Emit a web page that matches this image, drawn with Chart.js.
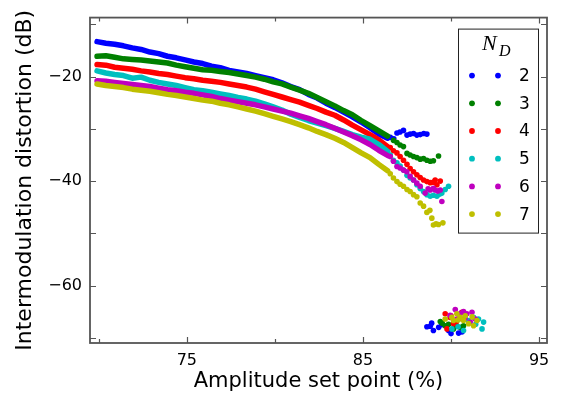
<!DOCTYPE html>
<html>
<head>
<meta charset="utf-8">
<script src="https://cdn.jsdelivr.net/npm/chart.js@4.4.0/dist/chart.umd.min.js"></script>
<style>
html, body { margin: 0; padding: 0; background: #fff; }
</style>
</head>
<body>
<canvas id="myChart" width="566" height="402"></canvas>
<script>
// amplitude set point (%) for the dense part of each curve
var bandX = [69.9, 70.4, 70.9, 71.4, 71.9, 72.4, 72.9, 73.4, 73.9, 74.4, 74.9,
    75.4, 75.9, 76.4, 76.9, 77.4, 77.9, 78.4, 78.9, 79.4, 79.9, 80.4, 80.9,
    81.4, 81.9, 82.4, 82.9, 83.4, 83.9, 84.4, 84.9, 85.4, 85.9, 86.4];

var bandN2 = [-13.3, -13.6, -13.8, -14.1, -14.5, -14.8, -15.3, -15.6, -16.1,
    -16.4, -16.8, -17.2, -17.5, -18.0, -18.3, -18.8, -19.1, -19.4, -19.8, -20.2,
    -20.6, -21.2, -21.9, -22.5, -23.4, -24.1, -25.1, -25.9, -26.8, -27.7, -28.7,
    -29.8, -31.0, -31.8];
var bandN3 = [-16.1, -16.0, -16.3, -16.6, -16.7, -16.8, -17.0, -17.2, -17.4,
    -17.8, -18.1, -18.4, -18.7, -18.8, -19.0, -19.2, -19.5, -19.8, -20.1, -20.5,
    -21.0, -21.4, -22.0, -22.6, -23.2, -24.0, -24.8, -25.6, -26.5, -27.3, -28.4,
    -29.4, -30.4, -31.4];
var bandN4 = [-17.7, -17.8, -18.2, -18.4, -18.6, -18.9, -19.1, -19.4, -19.6,
    -19.9, -20.2, -20.4, -20.7, -20.9, -21.1, -21.4, -21.7, -22.0, -22.4, -22.9,
    -23.4, -23.9, -24.4, -24.9, -25.5, -26.1, -26.8, -27.4, -28.3, -29.3, -30.2,
    -31.1, -32.1, -33.4];
var bandN5 = [-18.9, -19.3, -19.6, -19.8, -20.3, -20.1, -20.7, -21.1, -21.4,
    -21.7, -22.1, -22.5, -22.7, -23.0, -23.3, -23.6, -24.0, -24.3, -24.7, -25.2,
    -25.8, -26.4, -27.2, -27.8, -28.4, -28.9, -29.4, -29.9, -30.5, -31.1, -31.6,
    -32.0, -33.0, -34.3];
var bandN6 = [-20.8, -20.9, -21.1, -21.3, -21.5, -21.7, -21.9, -22.2, -22.5,
    -22.7, -23.0, -23.2, -23.5, -23.8, -24.2, -24.5, -24.8, -25.1, -25.4, -25.8,
    -26.2, -26.6, -27.0, -27.5, -28.0, -28.6, -29.2, -29.9, -30.6, -31.3, -32.1,
    -33.0, -34.1, -35.1];
var bandN7 = [-21.4, -21.7, -21.9, -22.1, -22.4, -22.6, -22.8, -23.1, -23.4,
    -23.6, -23.9, -24.2, -24.5, -24.7, -25.1, -25.4, -25.8, -26.2, -26.6, -27.1,
    -27.6, -28.1, -28.6, -29.2, -29.8, -30.5, -31.1, -31.8, -32.6, -33.6, -34.6,
    -35.5, -36.8, -38.0];

// sparse points at the end of each curve [x, dB]
var tailN2 = [[86.55, -31.6], [86.75, -31.9], [86.93, -30.8], [87.1, -30.6],
    [87.3, -30.3], [87.5, -31.2], [87.68, -31.0], [87.87, -30.9], [88.06, -31.2],
    [88.25, -31.1], [88.45, -30.9], [88.63, -31.0]];
var tailN3 = [[86.73, -32.2], [86.93, -32.6], [87.11, -33.1], [87.3, -33.4],
    [87.5, -34.7], [87.68, -35.0], [87.87, -35.3], [88.06, -35.5], [88.25, -35.8],
    [88.44, -35.7], [88.63, -36.0], [88.82, -36.2], [89.0, -36.1], [89.29, -35.2]];
var tailN4 = [[86.55, -33.6], [86.73, -34.2], [86.93, -34.6], [87.11, -35.3],
    [87.3, -36.0], [87.5, -36.8], [87.68, -37.6], [87.87, -38.2], [88.06, -38.8],
    [88.25, -39.3], [88.44, -39.8], [88.63, -40.1], [88.82, -40.3], [89.0, -40.2],
    [89.1, -39.8], [89.2, -40.7], [89.39, -40.0]];
var tailN5 = [[86.55, -35.0], [86.73, -36.0], [86.93, -36.5], [87.11, -37.1],
    [87.3, -37.9], [87.5, -38.9], [87.68, -39.4], [87.87, -39.8], [88.06, -40.7],
    [88.25, -41.4], [88.44, -42.0], [88.63, -42.6], [88.82, -42.9], [89.0, -42.7],
    [89.2, -42.9], [89.35, -42.5], [89.48, -42.3], [89.67, -41.6], [89.86, -41.0]];
var tailN6 = [[86.55, -35.3], [86.73, -36.2], [86.93, -37.2], [87.11, -37.5],
    [87.3, -37.9], [87.49, -38.2], [87.68, -39.1], [87.87, -39.8], [88.06, -40.4],
    [88.25, -41.0], [88.53, -42.3], [88.7, -41.5], [88.82, -41.7], [89.0, -41.4],
    [89.1, -41.7], [89.25, -41.9], [89.39, -41.7], [89.48, -43.9]];
var tailN7 = [[86.55, -38.6], [86.73, -39.4], [86.93, -40.1], [87.11, -40.6],
    [87.3, -41.0], [87.5, -41.6], [87.68, -42.0], [87.87, -42.6], [88.06, -43.0],
    [88.25, -44.2], [88.44, -44.8], [88.63, -46.0], [88.8, -45.6], [88.91, -47.1],
    [89.0, -48.4], [89.15, -48.2], [89.29, -48.3], [89.54, -48.0]];

// points in the low cluster near -67 dB [x, dB]
var clusterN2 = [[88.63, -67.9], [88.82, -67.8], [89.0, -68.6], [89.3, -68.0],
    [89.48, -67.5], [89.86, -68.6], [90.0, -69.2], [90.43, -69.1], [90.62, -68.9],
    [88.9, -67.2]];
var clusterN3 = [[89.39, -66.9], [89.67, -67.7], [89.86, -67.4], [90.14, -68.3],
    [90.52, -68.0], [90.71, -67.7], [89.5, -67.2], [90.3, -67.6]];
var clusterN4 = [[89.67, -65.4], [89.95, -66.1], [89.77, -68.3], [90.43, -66.4],
    [90.62, -65.1], [90.14, -67.3], [90.0, -65.8], [90.3, -66.9]];
var clusterN5 = [[90.05, -68.3], [90.71, -68.6], [91.0, -66.7], [91.56, -66.4],
    [91.85, -67.0], [91.76, -68.3], [91.28, -66.1], [90.4, -67.9], [91.4, -67.4]];
var clusterN6 = [[90.24, -64.6], [90.71, -65.0], [90.9, -65.4], [91.19, -65.1],
    [91.09, -67.0], [91.38, -66.4], [90.33, -66.4], [90.55, -65.3], [89.95, -65.7],
    [90.8, -66.2]];
var clusterN7 = [[89.67, -66.4], [90.14, -66.7], [90.33, -65.4], [90.52, -66.1],
    [90.81, -65.8], [91.0, -67.3], [91.28, -67.7], [91.47, -66.7], [90.71, -66.7],
    [90.05, -66.1], [91.2, -66.0], [90.4, -66.6]];

var seriesLabels = ['2', '3', '4', '5', '6', '7'];
var seriesColors = ['#0000ff', '#008000', '#ff0000', '#00bfbf', '#bf00bf', '#bfbf00'];
var bands = [bandN2, bandN3, bandN4, bandN5, bandN6, bandN7];
var tails = [tailN2, tailN3, tailN4, tailN5, tailN6, tailN7];
var clusters = [clusterN2, clusterN3, clusterN4, clusterN5, clusterN6, clusterN7];

var labelledX = [75, 85, 95];
var labelledY = [-20, -40, -60];

var FONT = '"DejaVu Sans", sans-serif';

function toPairs(list) {
    return list.map(function(p) { return {x: p[0], y: p[1]}; });
}

var datasets = [];
seriesLabels.forEach(function(lab, i) {
    datasets.push({
        label: 'N_D = ' + lab,
        data: bandX.map(function(x, k) { return {x: x, y: bands[i][k]}; }),
        showLine: true,
        borderColor: seriesColors[i],
        backgroundColor: seriesColors[i],
        borderWidth: 5.5,
        borderCapStyle: 'round',
        borderJoinStyle: 'round',
        pointRadius: 0,
        tension: 0,
        order: 20 - 2 * i
    });
    datasets.push({
        label: 'N_D = ' + lab + ' (sparse)',
        data: toPairs(tails[i].concat(clusters[i])),
        showLine: false,
        backgroundColor: seriesColors[i],
        borderWidth: 0,
        pointRadius: 2.8,
        order: 19 - 2 * i
    });
});

// inward ticks on all four sides, the frame and the N_D legend box
var framePlugin = {
    id: 'frame',
    afterDatasetsDraw: function(chart) {
        var ctx = chart.ctx;
        var a = chart.chartArea;
        var xs = chart.scales.x;
        var ys = chart.scales.y;
        ctx.save();
        ctx.strokeStyle = '#555';
        ctx.lineWidth = 1.2;
        ctx.beginPath();
        xs.ticks.forEach(function(t) {
            var px = Math.round(xs.getPixelForValue(t.value)) + 0.5;
            var len = t.label ? 6 : 4;
            ctx.moveTo(px, a.bottom); ctx.lineTo(px, a.bottom - len);
            ctx.moveTo(px, a.top); ctx.lineTo(px, a.top + len);
        });
        ys.ticks.forEach(function(t) {
            var py = Math.round(ys.getPixelForValue(t.value)) + 0.5;
            var len = 6;
            ctx.moveTo(a.left, py); ctx.lineTo(a.left + len, py);
            ctx.moveTo(a.right, py); ctx.lineTo(a.right - len, py);
        });
        ctx.stroke();

        ctx.lineWidth = 1.8;
        ctx.strokeRect(a.left, a.top, a.right - a.left, a.bottom - a.top);

        // legend
        var bw = 80, bh = 204;
        var bx = a.right - 9 - bw;
        var by = a.top + 11;
        ctx.fillStyle = '#fff';
        ctx.fillRect(bx, by, bw, bh);
        ctx.strokeStyle = '#222';
        ctx.lineWidth = 1;
        ctx.strokeRect(bx + 0.5, by + 0.5, bw, bh);

        ctx.fillStyle = '#000';
        ctx.textBaseline = 'alphabetic';
        ctx.textAlign = 'left';
        ctx.font = 'italic 22px "Liberation Serif", serif';
        ctx.fillText('N', bx + 24, by + 21);
        ctx.font = 'italic 16px "Liberation Serif", serif';
        ctx.fillText('D', bx + 41, by + 27);

        ctx.font = '17px ' + FONT;
        ctx.textBaseline = 'middle';
        seriesLabels.forEach(function(lab, i) {
            var cy = by + 47 + i * 27.7;
            ctx.fillStyle = seriesColors[i];
            [14, 40].forEach(function(dx) {
                ctx.beginPath();
                ctx.arc(bx + dx, cy, 2.9, 0, Math.PI * 2);
                ctx.fill();
            });
            ctx.fillStyle = '#000';
            ctx.fillText(lab, bx + 61, cy + 1);
        });
        ctx.restore();
    }
};

var ctx = document.getElementById('myChart').getContext('2d');
var myChart = new Chart(ctx, {
    type: 'scatter',
    data: { datasets: datasets },
    options: {
        responsive: false,
        animation: false,
        layout: { padding: { top: 15, right: 19, left: 0, bottom: 0 } },
        plugins: {
            legend: { display: false },
            tooltip: { enabled: false }
        },
        scales: {
            x: {
                type: 'linear',
                min: 69.5,
                max: 95.45,
                afterFit: function(scale) { scale.height = 59; },
                grid: { display: false, drawTicks: false },
                border: { display: false },
                ticks: {
                    stepSize: 5,
                    includeBounds: false,
                    autoSkip: false,
                    maxRotation: 0,
                    padding: 8,
                    color: '#000',
                    font: { family: FONT, size: 16 },
                    callback: function(v) {
                        return labelledX.indexOf(v) >= 0 ? String(v) : '';
                    }
                },
                title: {
                    display: true,
                    text: 'Amplitude set point (%)',
                    color: '#000',
                    font: { family: FONT, size: 21 },
                    padding: { top: 0, bottom: 8 }
                }
            },
            y: {
                type: 'linear',
                min: -71,
                max: -8.7,
                afterFit: function(scale) { scale.width = 90; },
                grid: { display: false, drawTicks: false },
                border: { display: false },
                ticks: {
                    stepSize: 10,
                    includeBounds: false,
                    autoSkip: false,
                    padding: 8,
                    color: '#000',
                    font: { family: FONT, size: 16 },
                    callback: function(v) {
                        return labelledY.indexOf(v) >= 0 ? '\u2212' + Math.abs(v) : '';
                    }
                },
                title: {
                    display: true,
                    text: 'Intermodulation distortion (dB)',
                    color: '#000',
                    font: { family: FONT, size: 22 },
                    padding: { top: 12, bottom: 0 }
                }
            }
        }
    },
    plugins: [framePlugin]
});
</script>
</body>
</html>
